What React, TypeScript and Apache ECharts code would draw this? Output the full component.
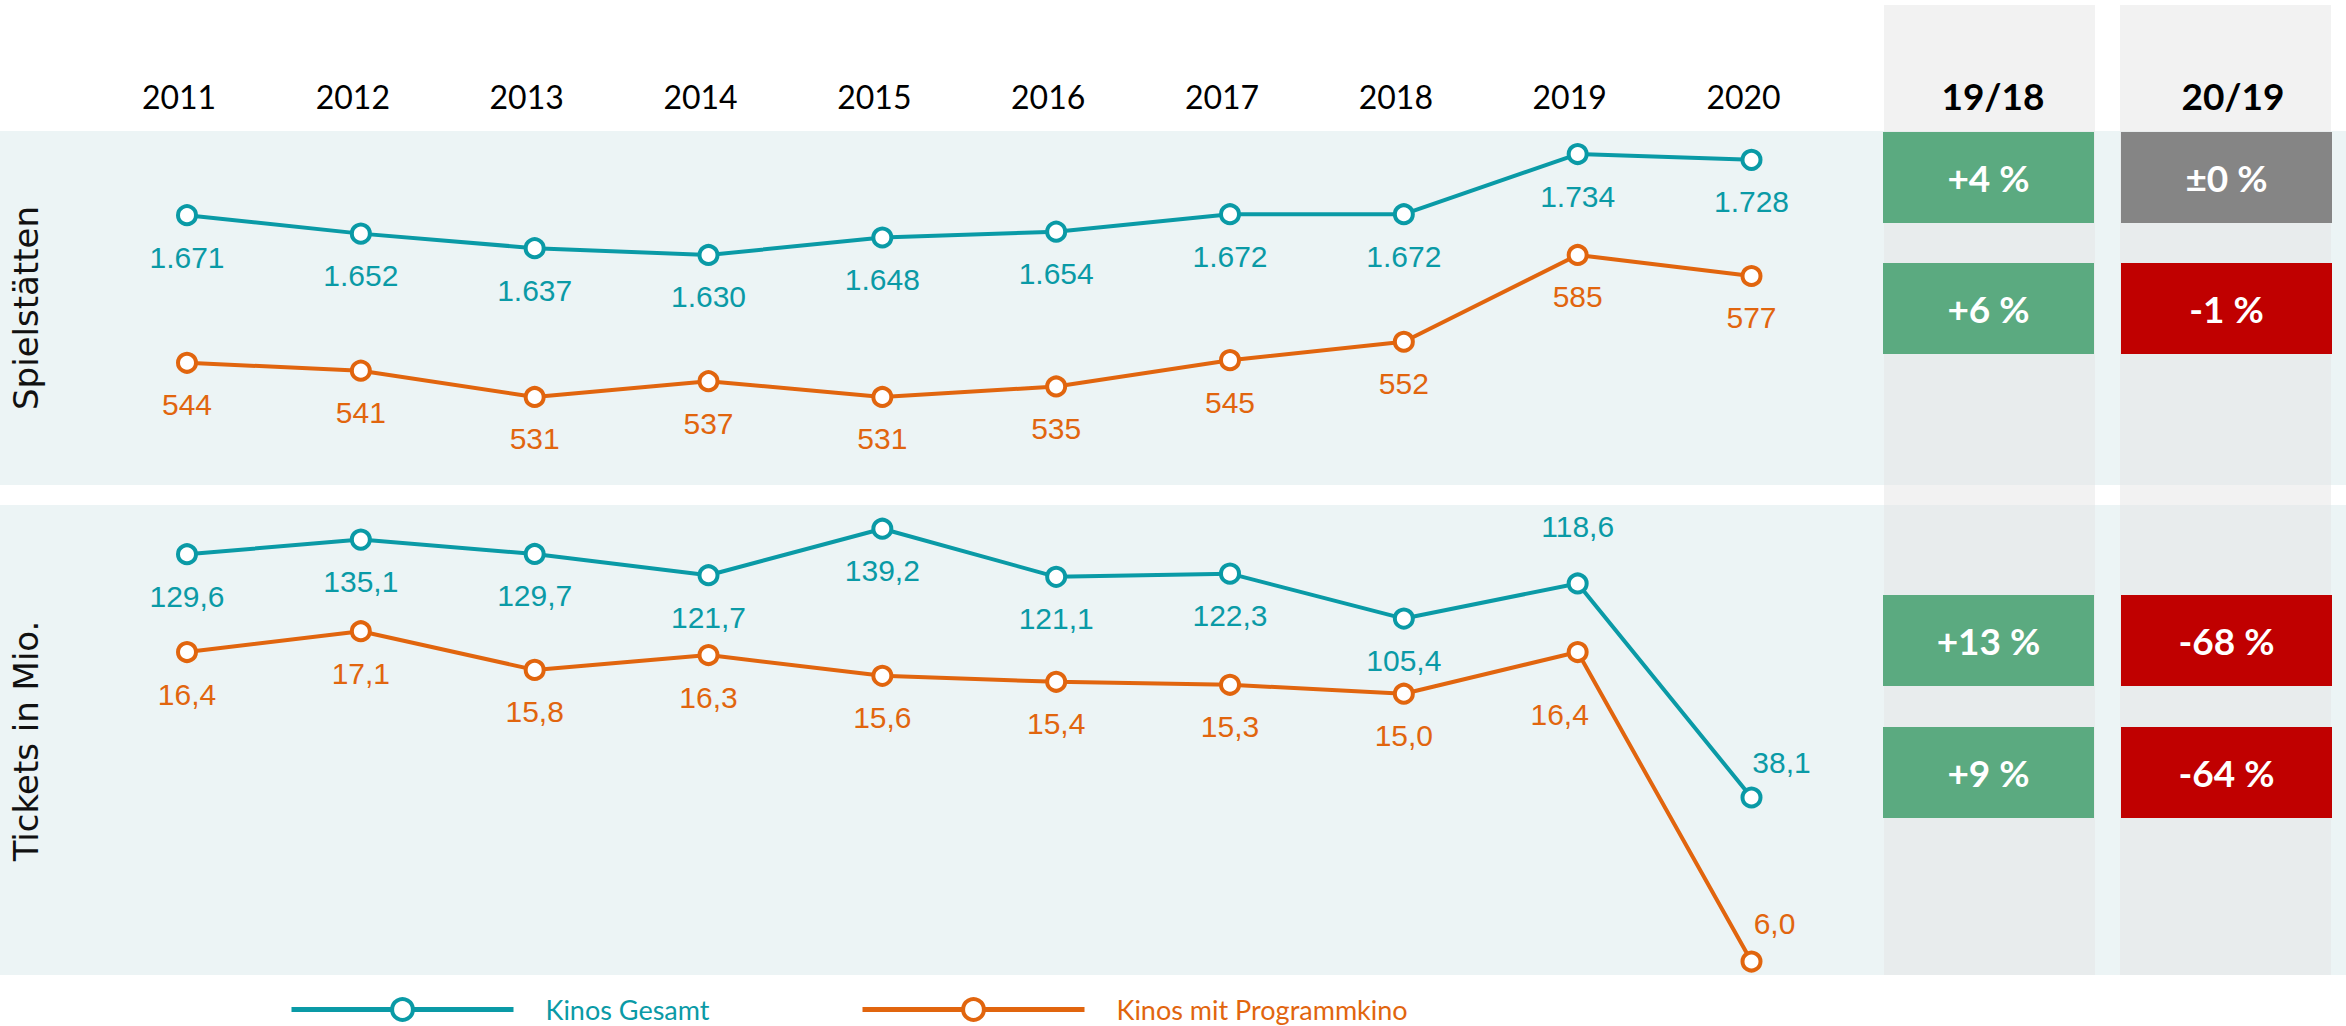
import React, { useEffect, useRef } from 'react';
import * as echarts from 'echarts';

// ---------- data ----------
const years = ['2011', '2012', '2013', '2014', '2015', '2016', '2017', '2018', '2019', '2020'];
const spielstaettenGesamt = [1671, 1652, 1637, 1630, 1648, 1654, 1672, 1672, 1734, 1728];
const spielstaettenProgramm = [544, 541, 531, 537, 531, 535, 545, 552, 585, 577];
const ticketsGesamt = [129.6, 135.1, 129.7, 121.7, 139.2, 121.1, 122.3, 105.4, 118.6, 38.1];
const ticketsProgramm = [16.4, 17.1, 15.8, 16.3, 15.6, 15.4, 15.3, 15.0, 16.4, 6.0];
const changeHeaders = ['19/18', '20/19'];
const change1918 = [4, 6, 13, 9];
const change2019 = [0, -1, -68, -64];
const seriesNames = ['Kinos Gesamt', 'Kinos mit Programmkino'];
const panelTitles = ['Spielstätten', 'Tickets in Mio.'];

// ---------- styles ----------
const TEAL = '#0A9AA6';
const ORANGE = '#E1650E';
const PANEL = '#ECF4F5';
const COL_OUT = '#F2F2F2';
const COL_IN = '#E8ECED';
const W = 2346;
const H = 1026;

function fmtThousands(v: number): string {
  const s = String(Math.round(v));
  return s.length > 3 ? s.slice(0, -3) + '.' + s.slice(-3) : s;
}
function fmtDecimal(v: number): string {
  return v.toFixed(1).replace('.', ',');
}
function fmtChange(v: number): string {
  if (v > 0) return '+' + v + ' %';
  if (v < 0) return '-' + Math.abs(v) + ' %';
  return '±0 %';
}
function changeColor(v: number): string {
  if (v > 0) return '#5BAA80';
  if (v < 0) return '#C00000';
  return '#858585';
}

export default function App() {
  const ref = useRef<HTMLDivElement>(null);

  useEffect(() => {
    document.body.style.margin = '0';
    if (!ref.current) return;
    const chart = echarts.init(ref.current, null, { renderer: 'svg' });

    const xLeft = 187;
    const xRight = W - 1751.5;

    const grids = [
      { left: xLeft, right: xRight, top: 128.8, height: 155.3 },
      { left: xLeft, right: xRight, top: 215.5, height: 263 },
      { left: xLeft, right: xRight, top: 473.4, height: 425.4 },
      { left: xLeft, right: xRight, top: 544.9, height: 446.4 },
    ];
    const yRanges = [
      [1600, 1760],
      [500, 600],
      [0, 160],
      [5, 20],
    ];
    const seriesData = [spielstaettenGesamt, spielstaettenProgramm, ticketsGesamt, ticketsProgramm];
    const colors = [TEAL, ORANGE, TEAL, ORANGE];
    const formatters = [fmtThousands, fmtThousands, fmtDecimal, fmtDecimal];
    const labelOverrides: Record<string, any> = {
      '2-8': { position: 'top', distance: 31 },
      '2-9': { position: 'top', distance: 9, offset: [30, 0] },
      '3-8': { position: 'bottom', distance: 36, offset: [-18, 0] },
      '3-9': { position: 'top', distance: 12, offset: [23, 0] },
    };

    const xAxis = grids.map((g, i) => ({
      type: 'category',
      gridIndex: i,
      data: years,
      boundaryGap: false,
      position: 'top',
      show: i === 0,
      axisLine: { show: false },
      axisTick: { show: false },
      splitLine: { show: false },
      axisLabel: {
        show: i === 0,
        interval: 0,
        margin: 16,
        color: '#000',
        fontSize: 32,
        fontFamily: 'Lato, sans-serif',
        padding: [0, 16, 0, 0],
      },
    }));
    const yAxis = grids.map((g, i) => ({
      type: 'value',
      gridIndex: i,
      min: yRanges[i][0],
      max: yRanges[i][1],
      show: false,
      splitLine: { show: false },
    }));

    const series = seriesData.map((arr, si) => ({
      type: 'line',
      name: seriesNames[si % 2],
      xAxisIndex: si,
      yAxisIndex: si,
      clip: false,
      symbol: 'circle',
      symbolSize: 18,
      z: 5,
      emphasis: { disabled: true },
      lineStyle: { color: colors[si], width: 4 },
      itemStyle: { color: '#fff', borderColor: colors[si], borderWidth: 4 },
      label: {
        show: true,
        position: 'bottom',
        distance: 16,
        color: colors[si],
        fontSize: 30,
        fontFamily: '"Liberation Sans", Arial, sans-serif',
        formatter: (p: any) => formatters[si](p.value),
      },
      data: arr.map((v, i) => {
        const ov = labelOverrides[si + '-' + i];
        return ov ? { value: v, label: ov } : v;
      }),
    }));

    // layout for annotation columns
    const colX = [1884, 2120];
    const colW = 211;
    const boxX = [1883, 2121];
    const boxY = [132, 263, 595, 727];
    const boxH = 91;
    const panels = [
      { y: 131, h: 354 },
      { y: 505, h: 470 },
    ];

    const graphic: any[] = [];
    panels.forEach((p) => {
      graphic.push({ type: 'rect', z: -20, shape: { x: 0, y: p.y, width: W, height: p.h }, style: { fill: PANEL } });
    });
    colX.forEach((cx) => {
      graphic.push({ type: 'rect', z: -19, shape: { x: cx, y: 5, width: colW, height: 970 }, style: { fill: COL_OUT } });
      panels.forEach((p) => {
        graphic.push({ type: 'rect', z: -18, shape: { x: cx, y: p.y, width: colW, height: p.h }, style: { fill: COL_IN } });
      });
    });
    const headerX = [1993, 2233];
    changeHeaders.forEach((t, i) => {
      graphic.push({
        type: 'text',
        z: -10,
        x: headerX[i],
        y: 95,
        style: {
          text: t,
          fill: '#000',
          fontSize: 37,
          fontWeight: 'bold',
          fontFamily: 'Lato, sans-serif',
          align: 'center',
          verticalAlign: 'middle',
          textAlign: 'center',
          textVerticalAlign: 'middle',
        },
      });
    });
    [change1918, change2019].forEach((vals, ci) => {
      vals.forEach((v, ri) => {
        graphic.push({
          type: 'rect',
          z: -5,
          shape: { x: boxX[ci], y: boxY[ri], width: colW, height: boxH },
          style: { fill: changeColor(v) },
        });
        graphic.push({
          type: 'text',
          z: -4,
          x: boxX[ci] + colW / 2,
          y: boxY[ri] + boxH / 2,
          style: {
            text: fmtChange(v),
            fill: '#fff',
            fontSize: 37,
            fontWeight: 'bold',
            fontFamily: 'Lato, sans-serif',
            align: 'center',
            verticalAlign: 'middle',
            textAlign: 'center',
            textVerticalAlign: 'middle',
          },
        });
      });
    });
    const titleY = [308, 741];
    panelTitles.forEach((t, i) => {
      graphic.push({
        type: 'text',
        z: -4,
        x: 26,
        y: titleY[i],
        rotation: Math.PI / 2,
        style: {
          text: t,
          fill: '#111',
          fontSize: 34,
          fontFamily: '"DejaVu Sans", sans-serif',
          align: 'center',
          verticalAlign: 'middle',
          textAlign: 'center',
          textVerticalAlign: 'middle',
        },
      });
    });

    const legendLeft = [289, 860];
    const legend = seriesNames.map((n, i) => ({
      data: [n],
      left: legendLeft[i],
      top: 996,
      padding: 0,
      orient: 'horizontal',
      selectedMode: false,
      itemWidth: 222,
      itemHeight: 26,
      itemStyle: { color: '#fff', borderColor: colors[i], borderWidth: 4 },
      lineStyle: { color: colors[i], width: 5 },
      textStyle: {
        color: colors[i],
        fontSize: 27,
        lineHeight: 24,
        fontFamily: 'Lato, sans-serif',
        padding: [0, 0, 0, 27],
      },
    }));

    chart.setOption({
      animation: false,
      backgroundColor: '#fff',
      grid: grids,
      xAxis,
      yAxis,
      series,
      legend,
      graphic,
      tooltip: { show: false },
    });

    return () => {
      chart.dispose();
    };
  }, []);

  return <div ref={ref} style={{ width: W + 'px', height: H + 'px' }} />;
}
